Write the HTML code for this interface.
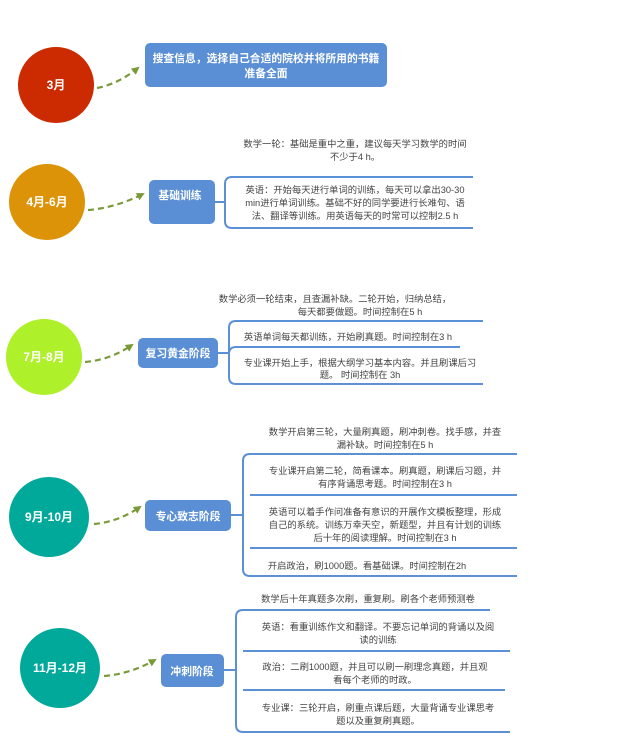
<!DOCTYPE html>
<html><head><meta charset="utf-8"><style>
html,body{margin:0;padding:0;background:#fff;}
svg{display:block;font-family:"Liberation Sans","Noto Sans CJK SC",sans-serif;}
.t{font-size:9.3px;fill:#444;text-anchor:middle;}
.c{font-size:12px;font-weight:bold;fill:#fff;text-anchor:middle;}
.b{font-size:10.8px;font-weight:bold;fill:#fff;text-anchor:middle;}
.br{fill:none;stroke:#5b8fd6;stroke-width:2;}
.ar{fill:none;stroke:#7a9a3a;stroke-width:2.2;stroke-dasharray:6,4;}
</style></head><body>
<svg width="622" height="740" viewBox="0 0 622 740">
<defs><marker id="m" markerWidth="8" markerHeight="8" refX="6" refY="4" orient="auto" markerUnits="userSpaceOnUse"><path d="M0,0 L8,4 L0,8 z" fill="#7a9a3a"/></marker></defs>

<!-- 1 -->
<circle cx="56" cy="85" r="38" fill="#cc2a00"/>
<text class="c" x="56" y="89">3月</text>
<path class="ar" d="M97,88 Q118,84 138,68" marker-end="url(#m)"/>
<rect x="145" y="43" width="242" height="44" rx="5" fill="#5a8fd6"/>
<text class="b" x="266" y="62">搜查信息，选择自己合适的院校并将所用的书籍</text>
<text class="b" x="266" y="77">准备全面</text>

<!-- 2 -->
<circle cx="47" cy="202" r="38" fill="#dd9307"/>
<text class="c" x="47" y="206">4月-6月</text>
<path class="ar" d="M88,210 Q115,208 143,194" marker-end="url(#m)"/>
<rect x="149" y="180" width="66" height="44" rx="5" fill="#5a8fd6"/>
<text class="b" x="180" y="199">基础训练</text>
<text class="t" x="355" y="147">数学一轮：基础是重中之重，建议每天学习数学的时间</text>
<text class="t" x="355" y="160">不少于4 h。</text>
<line x1="215" y1="202" x2="225" y2="202" stroke="#5b8fd6" stroke-width="2"/>
<path class="br" d="M473,177 H232 Q225,177 225,184 V221 Q225,228 232,228 H473"/>
<text class="t" x="355" y="193">英语：开始每天进行单词的训练，每天可以拿出30-30</text>
<text class="t" x="355" y="206">min进行单词训练。基础不好的同学要进行长难句、语</text>
<text class="t" x="355" y="219">法、翻译等训练。用英语每天的时常可以控制2.5 h</text>

<!-- 3 -->
<circle cx="44" cy="357" r="38" fill="#aef02a"/>
<text class="c" x="44" y="361">7月-8月</text>
<path class="ar" d="M85,362 Q110,360 132,345" marker-end="url(#m)"/>
<rect x="138" y="338" width="80" height="30" rx="5" fill="#5a8fd6"/>
<text class="b" x="178" y="357">复习黄金阶段</text>
<text class="t" x="335" y="302">数学必须一轮结束，且查漏补缺。二轮开始，归纳总结，</text>
<text class="t" x="360" y="315">每天都要做题。时间控制在5 h</text>
<line x1="218" y1="353" x2="229" y2="353" stroke="#5b8fd6" stroke-width="2"/>
<path class="br" d="M483,321 H236 Q229,321 229,328 V377 Q229,384 236,384 H483"/>
<line x1="236" y1="347" x2="460" y2="347" stroke="#5b8fd6" stroke-width="2"/>
<path class="br" d="M229,354 Q229,347 236,347"/>
<text class="t" x="348" y="340">英语单词每天都训练，开始刷真题。时间控制在3 h</text>
<text class="t" x="360" y="366">专业课开始上手，根据大纲学习基本内容。并且刷课后习</text>
<text class="t" x="360" y="378">题。 时间控制在 3h</text>

<!-- 4 -->
<circle cx="49" cy="517" r="40" fill="#00a99a"/>
<text class="c" x="49" y="521">9月-10月</text>
<path class="ar" d="M94,524 Q118,522 140,507" marker-end="url(#m)"/>
<rect x="145" y="500" width="86" height="31" rx="5" fill="#5a8fd6"/>
<text class="b" x="188" y="520">专心致志阶段</text>
<text class="t" x="385" y="435">数学开启第三轮，大量刷真题，刷冲刺卷。找手感，并查</text>
<text class="t" x="385" y="448">漏补缺。时间控制在5 h</text>
<line x1="231" y1="515" x2="243" y2="515" stroke="#5b8fd6" stroke-width="2"/>
<path class="br" d="M517,454 H250 Q243,454 243,461 V569 Q243,576 250,576 H517"/>
<line x1="250" y1="495" x2="517" y2="495" stroke="#5b8fd6" stroke-width="2"/>
<line x1="250" y1="548" x2="517" y2="548" stroke="#5b8fd6" stroke-width="2"/>
<text class="t" x="385" y="474">专业课开启第二轮，简看课本。刷真题，刷课后习题，并</text>
<text class="t" x="385" y="487">有序背诵思考题。时间控制在3 h</text>
<text class="t" x="385" y="515">英语可以着手作问准备有意识的开展作文模板整理，形成</text>
<text class="t" x="385" y="528">自己的系统。训练万幸天空，新题型，并且有计划的训练</text>
<text class="t" x="385" y="541">后十年的阅读理解。时间控制在3 h</text>
<text class="t" x="367" y="569">开启政治，刷1000题。看基础课。时间控制在2h</text>

<!-- 5 -->
<circle cx="60" cy="668" r="40" fill="#00a99a"/>
<text class="c" x="60" y="672">11月-12月</text>
<path class="ar" d="M104,676 Q130,674 155,660" marker-end="url(#m)"/>
<rect x="161" y="654" width="63" height="33" rx="5" fill="#5a8fd6"/>
<text class="b" x="192" y="675">冲刺阶段</text>
<text class="t" x="368" y="602">数学后十年真题多次刷，重复刷。刷各个老师预测卷</text>
<line x1="224" y1="670" x2="236" y2="670" stroke="#5b8fd6" stroke-width="2"/>
<path class="br" d="M490,610 H243 Q236,610 236,617 V725 Q236,732 243,732 H510"/>
<line x1="243" y1="651" x2="510" y2="651" stroke="#5b8fd6" stroke-width="2"/>
<line x1="243" y1="690" x2="505" y2="690" stroke="#5b8fd6" stroke-width="2"/>
<text class="t" x="378" y="630">英语：看重训练作文和翻译。不要忘记单词的背诵以及阅</text>
<text class="t" x="378" y="643">读的训练</text>
<text class="t" x="375" y="670">政治：二刷1000题，并且可以刷一刷理念真题，并且观</text>
<text class="t" x="375" y="683">看每个老师的时政。</text>
<text class="t" x="378" y="711">专业课：三轮开启，刷重点课后题，大量背诵专业课思考</text>
<text class="t" x="378" y="724">题以及重复刷真题。</text>
</svg>
</body></html>
